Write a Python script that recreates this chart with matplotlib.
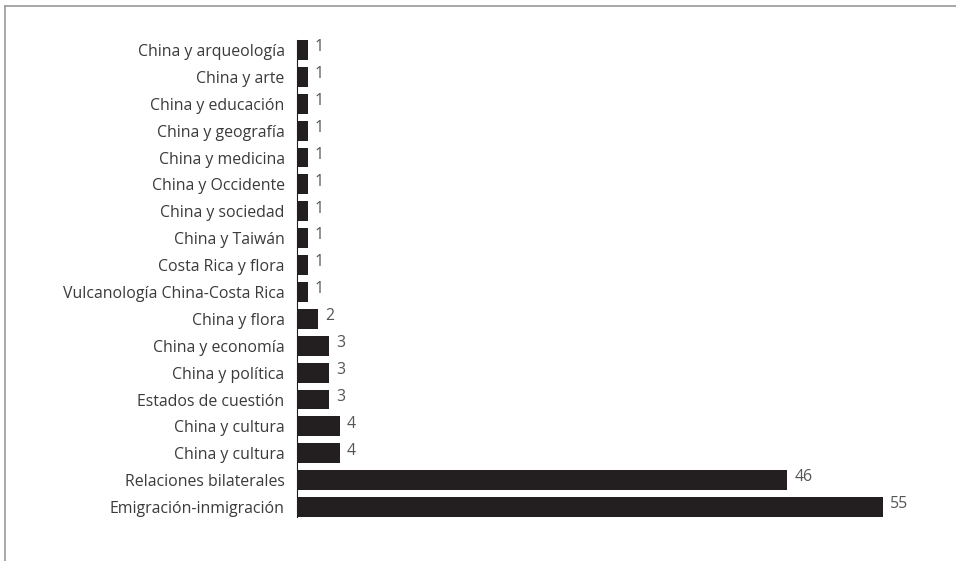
import matplotlib
matplotlib.use("Agg")
import matplotlib.pyplot as plt
from matplotlib.lines import Line2D

plt.rcParams['font.family'] = ['Open Sans', 'DejaVu Sans']

categories = [
    "China y arqueología", "China y arte", "China y educación", "China y geografía",
    "China y medicina", "China y Occidente", "China y sociedad", "China y Taiwán",
    "Costa Rica y flora", "Vulcanología China-Costa Rica", "China y flora",
    "China y economía", "China y política", "Estados de cuestión", "China y cultura",
    "China y cultura", "Relaciones bilaterales", "Emigración-inmigración",
]
values = [1, 1, 1, 1, 1, 1, 1, 1, 1, 1, 2, 3, 3, 3, 4, 4, 46, 55]

fig = plt.figure(figsize=(9.56, 5.61), dpi=100)
ax = fig.add_axes([0.3107, 0.0784, 0.64, 0.8503])

pos = list(range(len(categories)))
ax.barh(pos, values, height=0.74, color="#231f20")
ax.set_yticks(pos)
ax.set_yticklabels(categories, fontsize=11.4, color="#3a3a3a")
ax.tick_params(axis="y", length=0, pad=9)
ax.set_ylim(len(categories) - 1 + 0.37, -0.37)
ax.set_xlim(0, 57.4)
ax.set_xticks([])
for s in ["top", "right", "bottom"]:
    ax.spines[s].set_visible(False)
ax.spines["left"].set_linewidth(0.8)
ax.spines["left"].set_color("#231f20")

for p, v in zip(pos, values):
    ax.annotate(str(v), (v, p), xytext=(5, 2), textcoords="offset points",
                ha="left", va="center", fontsize=11.4, color="#555555")

# frame lines at top and left of the figure
fig.add_artist(Line2D([4.5 / 956, 1], [1 - 5.5 / 561] * 2, color="#9a9a9a", lw=1.2))
fig.add_artist(Line2D([4.5 / 956] * 2, [0, 1 - 5.5 / 561], color="#9a9a9a", lw=1.2))

fig.savefig("out.png", dpi=100)
